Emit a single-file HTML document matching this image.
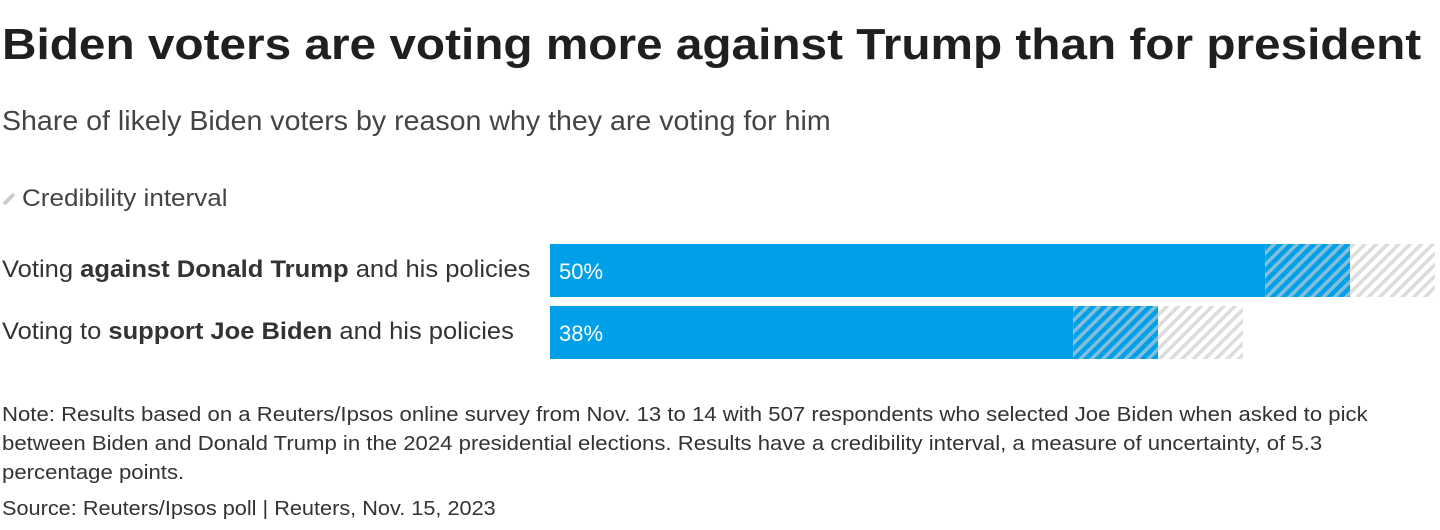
<!DOCTYPE html>
<html><head><meta charset="utf-8"><style>
body{margin:0;width:1440px;height:530px;background:#fff;font-family:"Liberation Sans",sans-serif;color:#222;overflow:hidden;position:relative}
.t{position:absolute;left:2px;white-space:nowrap;transform-origin:0 0}
</style></head><body>
<div class="t" style="top:20px;font-size:44px;font-weight:bold;color:#1f1f1f;transform:scaleX(1.085)">Biden voters are voting more against Trump than for president</div>
<div class="t" style="top:105px;font-size:28px;color:#444;transform:scaleX(1.02)">Share of likely Biden voters by reason why they are voting for him</div>
<svg style="position:absolute;left:2px;top:192px" width="14" height="14"><line x1="2" y1="12" x2="12" y2="2" stroke="#ccc" stroke-width="4"/></svg>
<div class="t" style="left:22px;top:185px;font-size:24px;color:#444;transform:scaleX(1.085)">Credibility interval</div>
<div class="t" style="top:256px;font-size:24px;color:#333;transform:scaleX(1.065)">Voting <b>against Donald Trump</b> and his policies</div>
<div class="t" style="top:318px;font-size:24px;color:#333;transform:scaleX(1.063)">Voting to <b>support Joe Biden</b> and his policies</div>
<svg id="chart" style="position:absolute;left:0;top:0" width="1440" height="400">
<defs>
<pattern id="hb" patternUnits="userSpaceOnUse" width="8" height="8" patternTransform="rotate(45)"><rect width="8" height="8" fill="#00a0e9"/><rect width="3.5" height="8" fill="#85bedb"/></pattern>
<pattern id="hg" patternUnits="userSpaceOnUse" width="8" height="8" patternTransform="rotate(45)"><rect width="8" height="8" fill="#fff"/><rect width="3.5" height="8" fill="#dcdcdc"/></pattern>
</defs>
</svg>
<div>
<div class="t" style="top:404px;font-size:20px;color:#333;transform:scaleX(1.107)">Note: Results based on a Reuters/Ipsos online survey from Nov. 13 to 14 with 507 respondents who selected Joe Biden when asked to pick</div>
<div class="t" style="top:433px;font-size:20px;color:#333;transform:scaleX(1.107)">between Biden and Donald Trump in the 2024 presidential elections. Results have a credibility interval, a measure of uncertainty, of 5.3</div>
<div class="t" style="top:462px;font-size:20px;color:#333;transform:scaleX(1.107)">percentage points.</div>
</div>
<div class="t" style="top:498px;font-size:20px;color:#333;transform:scaleX(1.085)">Source: Reuters/Ipsos poll | Reuters, Nov. 15, 2023</div>
<script>
const categories=["against-trump","support-biden"];
const values=[50,38];
const interval=[5.3,5.3];
const x0=550,pxPer=16;
function xs(v){return x0+v*pxPer;}
const svg=document.getElementById('chart');
const NS="http://www.w3.org/2000/svg";
const tops=[244,306],h=53;
values.forEach((v,i)=>{
  const ci=interval[i];
  const parts=[[0,v-ci,'#00a0e9','bar-solid'],[v-ci,v,'url(#hb)','bar-interval-low'],[v,v+ci,'url(#hg)','bar-interval-high']];
  parts.forEach(p=>{
    const r=document.createElementNS(NS,'rect');
    r.setAttribute('x',xs(p[0]));r.setAttribute('y',tops[i]);
    r.setAttribute('width',xs(p[1])-xs(p[0]));r.setAttribute('height',h);
    r.setAttribute('fill',p[2]);
    
    
    svg.appendChild(r);
  });
  const t=document.createElementNS(NS,'text');
  t.setAttribute('x',x0+9);t.setAttribute('y',tops[i]+35);
  t.setAttribute('fill','#fff');t.setAttribute('font-size','22');
  t.setAttribute('font-family','Liberation Sans, sans-serif');
  t.textContent=v+'%';
  
  
  svg.appendChild(t);
});
</script>
</body></html>
